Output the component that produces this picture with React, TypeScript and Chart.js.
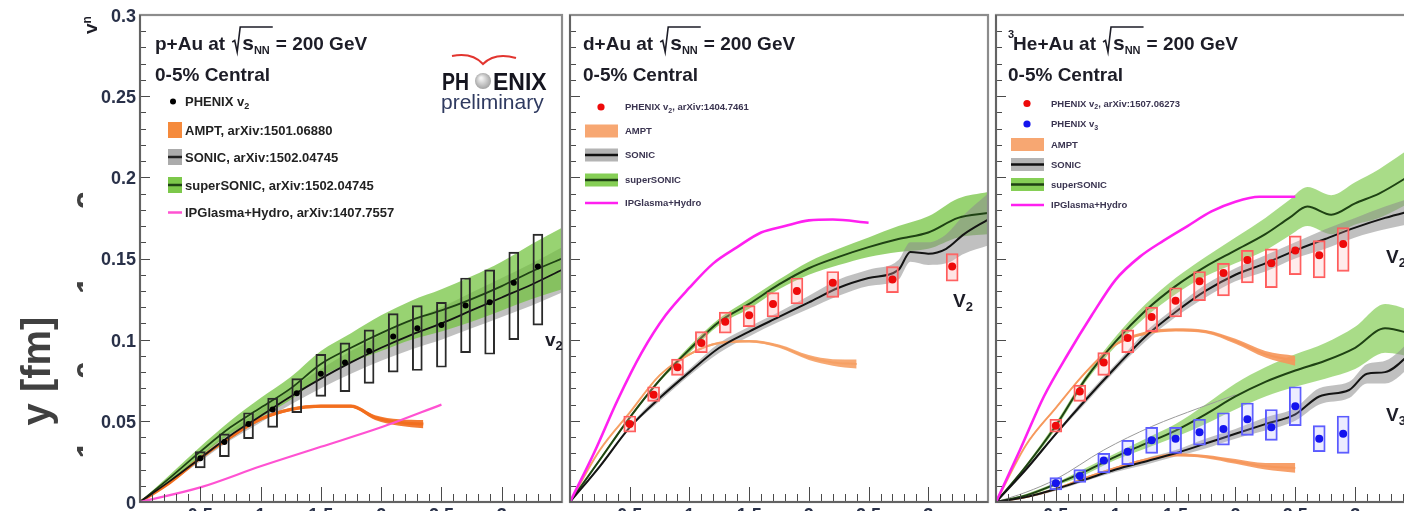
import React, { useEffect, useRef } from "react";
import { Chart, registerables } from "chart.js";

Chart.register(...registerables);

const FONT = '"Liberation Sans", Arial, Helvetica, sans-serif';
const CANVAS_H = 530;
const X_MAX = 3.5;
const Y_MAX = 0.3;

const yTickLabels = ["0", "0.05", "0.1", "0.15", "0.2", "0.25", "0.3"];
const xTickLabels = ["0.5", "1", "1.5", "2", "2.5", "3"];

// ---------------- p+Au ----------------
const pAuX = [0.5, 0.7, 0.9, 1.1, 1.3, 1.5, 1.7, 1.9, 2.1, 2.3, 2.5, 2.7, 2.9, 3.1, 3.3];
const pAuV2 = [0.027, 0.037, 0.048, 0.057, 0.067, 0.079, 0.086, 0.093, 0.102, 0.107, 0.109, 0.121, 0.123, 0.135, 0.145];
const pAuV2SysLo = [0.021, 0.028, 0.039, 0.046, 0.055, 0.065, 0.068, 0.073, 0.08, 0.081, 0.083, 0.092, 0.091, 0.1, 0.109];
const pAuV2SysHi = [0.031, 0.042, 0.055, 0.064, 0.076, 0.091, 0.098, 0.106, 0.116, 0.121, 0.123, 0.138, 0.143, 0.154, 0.165];

const hydroX = [0, 0.25, 0.5, 0.75, 1, 1.25, 1.5, 1.75, 2, 2.25, 2.5, 2.75, 3, 3.25, 3.5];
const pAuSonic = [0, 0.013, 0.027, 0.041, 0.053, 0.065, 0.076, 0.086, 0.095, 0.103, 0.11, 0.118, 0.126, 0.134, 0.143];
const pAuSonicErr = [0, 0.001, 0.002, 0.003, 0.004, 0.005, 0.006, 0.007, 0.008, 0.009, 0.01, 0.011, 0.012, 0.013, 0.014];
const pAuSuperSonic = [0, 0.015, 0.031, 0.046, 0.058, 0.07, 0.085, 0.095, 0.104, 0.112, 0.118, 0.125, 0.133, 0.142, 0.15];
const pAuSuperSonicErr = [0, 0.002, 0.003, 0.004, 0.006, 0.007, 0.008, 0.009, 0.011, 0.012, 0.013, 0.014, 0.015, 0.017, 0.019];
const pAuAmptX = [0, 0.25, 0.5, 0.75, 1, 1.25, 1.5, 1.75, 1.95, 2.15, 2.35];
const pAuAmpt = [0, 0.012, 0.027, 0.04, 0.051, 0.057, 0.059, 0.059, 0.052, 0.049, 0.048];
const pAuAmptErr = [0, 0.0005, 0.0008, 0.001, 0.001, 0.001, 0.001, 0.001, 0.0015, 0.002, 0.0025];
const pAuIpgX = [0, 0.5, 1, 1.5, 2, 2.5];
const pAuIpg = [0, 0.009, 0.022, 0.034, 0.046, 0.06];

// ---------------- d+Au ----------------
const dAuX = [0.5, 0.7, 0.9, 1.1, 1.3, 1.5, 1.7, 1.9, 2.2, 2.7, 3.2];
const dAuV2 = [0.048, 0.066, 0.083, 0.098, 0.111, 0.115, 0.122, 0.13, 0.135, 0.137, 0.145];
const dAuV2SysLo = [0.043, 0.062, 0.078, 0.092, 0.104, 0.108, 0.114, 0.122, 0.126, 0.129, 0.136];
const dAuV2SysHi = [0.053, 0.071, 0.088, 0.105, 0.117, 0.121, 0.129, 0.138, 0.142, 0.145, 0.153];
const dAuSonicX = [0, 0.25, 0.5, 0.75, 1, 1.25, 1.5, 1.75, 2, 2.25, 2.5, 2.75, 2.85, 3, 3.15, 3.3, 3.5];
const dAuSonic = [0, 0.022, 0.046, 0.064, 0.08, 0.095, 0.105, 0.114, 0.123, 0.132, 0.138, 0.143, 0.154, 0.153, 0.156, 0.165, 0.174];
const dAuSonicErr = [0, 0.001, 0.001, 0.002, 0.002, 0.003, 0.003, 0.003, 0.004, 0.005, 0.005, 0.006, 0.006, 0.007, 0.009, 0.012, 0.016];
const dAuSuperSonic = [0, 0.026, 0.052, 0.075, 0.094, 0.111, 0.122, 0.134, 0.144, 0.151, 0.157, 0.162, 0.166, 0.175, 0.178];
const dAuSuperSonicErr = [0, 0.001, 0.001, 0.001, 0.002, 0.002, 0.003, 0.003, 0.004, 0.005, 0.006, 0.008, 0.01, 0.012, 0.013];
const dAuAmptX = [0, 0.25, 0.5, 0.75, 1, 1.25, 1.5, 1.75, 2, 2.2, 2.4];
const dAuAmpt = [0, 0.032, 0.055, 0.078, 0.091, 0.098, 0.099, 0.096, 0.089, 0.086, 0.085];
const dAuAmptErr = [0, 0.0005, 0.0005, 0.0005, 0.0007, 0.0007, 0.0008, 0.001, 0.0015, 0.002, 0.0028];
const dAuIpgX = [0, 0.2, 0.4, 0.6, 0.8, 1, 1.2, 1.4, 1.6, 1.8, 2, 2.2, 2.5];
const dAuIpg = [0, 0.03, 0.063, 0.092, 0.115, 0.132, 0.147, 0.157, 0.166, 0.17, 0.1735, 0.174, 0.172];

// ---------------- 3He+Au ----------------
const heAuX = [0.5, 0.7, 0.9, 1.1, 1.3, 1.5, 1.7, 1.9, 2.1, 2.3, 2.5, 2.7, 2.9];
const heAuV2 = [0.047, 0.068, 0.086, 0.101, 0.114, 0.124, 0.136, 0.141, 0.149, 0.147, 0.155, 0.152, 0.159];
const heAuV2SysLo = [0.043, 0.062, 0.078, 0.092, 0.105, 0.114, 0.124, 0.127, 0.135, 0.132, 0.14, 0.138, 0.142];
const heAuV2SysHi = [0.051, 0.072, 0.092, 0.106, 0.12, 0.132, 0.142, 0.147, 0.155, 0.156, 0.164, 0.161, 0.169];
const heAuV3 = [0.0115, 0.016, 0.0255, 0.031, 0.038, 0.039, 0.043, 0.045, 0.051, 0.046, 0.059, 0.039, 0.042];
const heAuV3SysLo = [0.0075, 0.012, 0.018, 0.023, 0.03, 0.03, 0.035, 0.035, 0.041, 0.038, 0.047, 0.031, 0.03];
const heAuV3SysHi = [0.015, 0.02, 0.03, 0.038, 0.046, 0.046, 0.051, 0.055, 0.061, 0.057, 0.071, 0.047, 0.053];

const heSonicV2 = [0, 0.02, 0.042, 0.063, 0.083, 0.102, 0.117, 0.13, 0.14, 0.147, 0.155, 0.162, 0.169, 0.175, 0.18];
const heSonicV2Err = [0, 0.001, 0.001, 0.002, 0.002, 0.003, 0.003, 0.004, 0.004, 0.005, 0.005, 0.006, 0.006, 0.007, 0.008];
const heSuperSonicV2X = [0, 0.25, 0.5, 0.75, 1, 1.25, 1.5, 1.75, 2, 2.25, 2.45, 2.6, 2.8, 3, 3.2, 3.5];
const heSuperSonicV2 = [0, 0.022, 0.047, 0.076, 0.099, 0.118, 0.133, 0.145, 0.155, 0.165, 0.175, 0.182, 0.177, 0.184, 0.19, 0.203];
const heSuperSonicV2Err = [0, 0.001, 0.002, 0.002, 0.003, 0.004, 0.005, 0.006, 0.008, 0.01, 0.011, 0.012, 0.012, 0.013, 0.015, 0.017];
const heAmptX = [0, 0.25, 0.5, 0.75, 1, 1.25, 1.5, 1.75, 2, 2.25, 2.5];
const heAmptV2 = [0, 0.035, 0.058, 0.08, 0.097, 0.104, 0.106, 0.105, 0.099, 0.091, 0.087];
const heAmptV2Err = [0, 0.0005, 0.0005, 0.0007, 0.0008, 0.001, 0.001, 0.001, 0.0015, 0.002, 0.003];
const heIpgX = [0, 0.2, 0.4, 0.6, 0.8, 1, 1.2, 1.4, 1.6, 1.8, 2, 2.2, 2.5];
const heIpgV2 = [0, 0.032, 0.065, 0.091, 0.115, 0.137, 0.151, 0.161, 0.17, 0.179, 0.185, 0.188, 0.188];

const heSonicV3X = [0, 0.25, 0.5, 0.75, 1, 1.25, 1.5, 1.75, 2, 2.25, 2.5, 2.7, 2.95, 3.1, 3.25, 3.5];
const heSonicV3 = [0, 0.003, 0.008, 0.014, 0.02, 0.025, 0.03, 0.036, 0.042, 0.048, 0.054, 0.065, 0.069, 0.079, 0.08, 0.094];
const heSonicV3Err = [0, 0.0005, 0.001, 0.001, 0.0015, 0.002, 0.002, 0.003, 0.003, 0.004, 0.004, 0.005, 0.005, 0.006, 0.007, 0.008];
const heSuperSonicV3 = [0, 0.004, 0.011, 0.019, 0.028, 0.036, 0.044, 0.054, 0.065, 0.074, 0.081, 0.087, 0.095, 0.107, 0.103];
const heSuperSonicV3Err = [0, 0.001, 0.001, 0.002, 0.002, 0.003, 0.004, 0.006, 0.008, 0.009, 0.01, 0.011, 0.013, 0.015, 0.014];
const heAmptV3 = [0, 0.003, 0.008, 0.015, 0.021, 0.026, 0.029, 0.028, 0.025, 0.022, 0.021];
const heAmptV3Err = [0, 0.0005, 0.0005, 0.0005, 0.0007, 0.0008, 0.001, 0.001, 0.0015, 0.002, 0.003];
const heV3GrayCurveX = [0, 0.25, 0.5, 0.9, 1.3, 1.7, 2.0];
const heV3GrayCurve = [0, 0.006, 0.014, 0.032, 0.0465, 0.058, 0.066];

// ---------------- dataset helpers ----------------
type Pt = { x: number; y: number };
const pts = (xs: number[], ys: number[]): Pt[] => xs.map((x, i) => ({ x, y: ys[i] }));
const shifted = (ys: number[], es: number[], s: number) => ys.map((y, i) => y + s * es[i]);

function band(xs: number[], mid: number[], err: number[], color: string, order: number) {
  const common = {
    type: "line",
    borderWidth: 0,
    borderColor: "rgba(0,0,0,0)",
    pointRadius: 0,
    cubicInterpolationMode: "monotone",
    order,
  };
  return [
    { ...common, data: pts(xs, shifted(mid, err, 1)), fill: false },
    { ...common, data: pts(xs, shifted(mid, err, -1)), fill: "-1", backgroundColor: color },
  ];
}

function curve(xs: number[], ys: number[], color: string, width: number, order: number) {
  return {
    type: "line",
    data: pts(xs, ys),
    borderColor: color,
    borderWidth: width,
    pointRadius: 0,
    fill: false,
    cubicInterpolationMode: "monotone",
    order,
  };
}

function sysBoxes(xs: number[], lo: number[], hi: number[], stroke: string, fillColor: string, thickness: number) {
  return {
    type: "bar",
    data: xs.map((x, i) => ({ x, y: [lo[i], hi[i]] })),
    backgroundColor: fillColor,
    borderColor: stroke,
    borderWidth: 1.3,
    borderSkipped: false,
    barThickness: thickness,
    grouped: false,
    order: 2,
  };
}

function markers(xs: number[], ys: number[], color: string, r: number) {
  return {
    type: "line",
    data: pts(xs, ys),
    showLine: false,
    borderColor: color,
    pointRadius: r,
    pointBackgroundColor: color,
    pointBorderColor: color,
    pointBorderWidth: 0,
    order: 1,
  };
}

// ---------------- text helpers ----------------
const TXT = "#1d1d27";

function drawTitle(ctx: CanvasRenderingContext2D, x: number, y: number, system: string, iso?: string) {
  ctx.save();
  ctx.fillStyle = TXT;
  ctx.strokeStyle = TXT;
  ctx.textAlign = "left";
  ctx.textBaseline = "alphabetic";
  let cx = x;
  if (iso) {
    ctx.font = `bold 11px ${FONT}`;
    ctx.fillText(iso, cx, y - 12);
    cx += ctx.measureText(iso).width - 1;
  }
  ctx.font = `bold 19px ${FONT}`;
  const head = system + " at";
  ctx.fillText(head, cx, y);
  cx += ctx.measureText(head).width + 7;
  ctx.font = `bold 21px ${FONT}`;
  const sW = ctx.measureText("s").width;
  ctx.font = `bold 11px ${FONT}`;
  const nnW = ctx.measureText("NN").width;
  ctx.lineWidth = 1.6;
  ctx.beginPath();
  ctx.moveTo(cx, y - 8);
  ctx.lineTo(cx + 2.5, y - 9.5);
  ctx.lineTo(cx + 5, y + 2);
  ctx.lineTo(cx + 8, y - 23);
  ctx.lineTo(cx + 11 + sW + nnW + 2, y - 23);
  ctx.stroke();
  cx += 10;
  ctx.font = `bold 21px ${FONT}`;
  ctx.fillText("s", cx, y);
  cx += sW;
  ctx.font = `bold 11px ${FONT}`;
  ctx.fillText("NN", cx, y + 4);
  cx += nnW + 6;
  ctx.font = `bold 19px ${FONT}`;
  ctx.fillText("= 200 GeV", cx, y);
  ctx.fillText("0-5% Central", x, y + 31);
  ctx.restore();
}

function drawHarmonic(ctx: CanvasRenderingContext2D, x: number, y: number, letter: string, n: string, size: number) {
  ctx.save();
  ctx.fillStyle = TXT;
  ctx.textAlign = "left";
  ctx.textBaseline = "alphabetic";
  ctx.font = `bold ${size}px ${FONT}`;
  ctx.fillText(letter, x, y);
  const w = ctx.measureText(letter).width;
  ctx.font = `bold ${Math.round(size * 0.68)}px ${FONT}`;
  ctx.fillText(n, x + w, y + size * 0.22);
  ctx.restore();
}

type LegendEntry = {
  kind: "dot" | "box" | "bandline" | "line";
  color: string;
  lineColor?: string;
  text: string;
  sub?: string;
  tail?: string;
};

type LegendLayout = {
  rows: number[];
  x0: number;
  x1: number;
  h: number;
  dotX: number;
  dotR: number;
  textX: number;
  size: number;
  color: string;
};

function drawLegend(ctx: CanvasRenderingContext2D, entries: LegendEntry[], L: LegendLayout) {
  ctx.save();
  ctx.textAlign = "left";
  ctx.textBaseline = "alphabetic";
  entries.forEach((e, i) => {
    const y = L.rows[i];
    if (e.kind === "dot") {
      ctx.fillStyle = e.color;
      ctx.beginPath();
      ctx.arc(L.dotX, y, L.dotR, 0, Math.PI * 2);
      ctx.fill();
    } else if (e.kind === "box" || e.kind === "bandline") {
      ctx.fillStyle = e.color;
      ctx.fillRect(L.x0, y - L.h / 2, L.x1 - L.x0, L.h);
      if (e.kind === "bandline") {
        ctx.strokeStyle = e.lineColor || "#111";
        ctx.lineWidth = 2.5;
        ctx.beginPath();
        ctx.moveTo(L.x0, y);
        ctx.lineTo(L.x1, y);
        ctx.stroke();
      }
    } else {
      ctx.strokeStyle = e.color;
      ctx.lineWidth = 2.5;
      ctx.beginPath();
      ctx.moveTo(L.x0, y);
      ctx.lineTo(L.x1, y);
      ctx.stroke();
    }
    ctx.fillStyle = L.color;
    ctx.font = `bold ${L.size}px ${FONT}`;
    const by = y + L.size * 0.36;
    ctx.fillText(e.text, L.textX, by);
    let cx = L.textX + ctx.measureText(e.text).width;
    if (e.sub) {
      ctx.font = `bold ${Math.round(L.size * 0.7)}px ${FONT}`;
      ctx.fillText(e.sub, cx, by + L.size * 0.25);
      cx += ctx.measureText(e.sub).width;
    }
    if (e.tail) {
      ctx.font = `bold ${L.size}px ${FONT}`;
      ctx.fillText(e.tail, cx, by);
    }
  });
  ctx.restore();
}

function drawLogo(ctx: CanvasRenderingContext2D) {
  ctx.save();
  ctx.strokeStyle = "#e2352f";
  ctx.lineWidth = 2;
  ctx.beginPath();
  ctx.moveTo(452, 56);
  ctx.quadraticCurveTo(472, 52, 483, 64);
  ctx.quadraticCurveTo(495, 52, 516, 58);
  ctx.stroke();
  ctx.fillStyle = "#15151f";
  ctx.font = `bold 23px ${FONT}`;
  ctx.textBaseline = "alphabetic";
  const phW = ctx.measureText("PH").width;
  ctx.save();
  ctx.translate(442, 90);
  ctx.scale(27 / phW, 1);
  ctx.fillText("PH", 0, 0);
  ctx.restore();
  ctx.fillText("ENIX", 493, 90);
  const g = ctx.createRadialGradient(481, 78, 1, 483, 81, 9);
  g.addColorStop(0, "#f4f4f4");
  g.addColorStop(1, "#9c9c9c");
  ctx.fillStyle = g;
  ctx.beginPath();
  ctx.arc(483, 81, 8, 0, Math.PI * 2);
  ctx.fill();
  ctx.fillStyle = "#2f3a60";
  ctx.font = `21px ${FONT}`;
  ctx.fillText("preliminary", 441, 109);
  ctx.restore();
}

// fragments of a neighbouring figure's rotated axis, cut off at the page gutter
const strayTickLabels = ["2", "1", "0", "-1"];
const strayTickY = [200, 285, 370, 455];

function drawStray(ctx: CanvasRenderingContext2D) {
  ctx.save();
  ctx.fillStyle = "#404040";
  ctx.save();
  ctx.translate(50, 371);
  ctx.rotate(-Math.PI / 2);
  ctx.font = `bold 40px ${FONT}`;
  ctx.textAlign = "center";
  ctx.textBaseline = "alphabetic";
  ctx.fillText("y [fm]", 0, 0);
  ctx.restore();
  ctx.beginPath();
  ctx.rect(0, 0, 83, 511);
  ctx.clip();
  ctx.font = `bold 32px ${FONT}`;
  strayTickLabels.forEach((t, i) => {
    ctx.save();
    ctx.translate(99, strayTickY[i]);
    ctx.rotate(-Math.PI / 2);
    ctx.textAlign = "center";
    ctx.fillText(t, 0, 0);
    ctx.restore();
  });
  ctx.restore();

  // rotated v_n axis title
  ctx.save();
  ctx.fillStyle = TXT;
  ctx.translate(97, 34);
  ctx.rotate(-Math.PI / 2);
  ctx.font = `bold 19px ${FONT}`;
  ctx.fillText("v", 0, 0);
  const w = ctx.measureText("v").width;
  ctx.font = `bold 12px ${FONT}`;
  ctx.fillText("n", w, -6);
  ctx.restore();
}

// ---------------- axes (ROOT style, ticks inside the frame) ----------------
function drawAxes(chart: any, showYLabels: boolean) {
  const ctx: CanvasRenderingContext2D = chart.ctx;
  const a = chart.chartArea;
  const sx = chart.scales.x;
  const sy = chart.scales.y;
  ctx.save();
  ctx.strokeStyle = "#4a4a4a";
  ctx.lineWidth = 1;
  const ny = Math.round(Y_MAX / 0.01);
  for (let i = 0; i <= ny; i++) {
    const py = Math.round(sy.getPixelForValue(i * 0.01)) + 0.5;
    const len = i % 5 === 0 ? 10 : 6;
    ctx.beginPath();
    ctx.moveTo(a.left, py);
    ctx.lineTo(a.left + len, py);
    ctx.stroke();
  }
  const nx = Math.round(X_MAX / 0.1);
  for (let i = 0; i <= nx; i++) {
    const px = Math.round(sx.getPixelForValue(i * 0.1)) + 0.5;
    const len = i % 5 === 0 ? 15 : 8;
    ctx.beginPath();
    ctx.moveTo(px, a.bottom);
    ctx.lineTo(px, a.bottom - len);
    ctx.stroke();
  }
  ctx.strokeStyle = "#8c8c8c";
  ctx.lineWidth = 2.2;
  ctx.strokeRect(a.left, a.top, a.right - a.left, a.bottom - a.top);
  ctx.strokeStyle = "#555";
  ctx.lineWidth = 1.5;
  ctx.beginPath();
  ctx.moveTo(a.left, a.top);
  ctx.lineTo(a.left, a.bottom);
  ctx.lineTo(a.right, a.bottom);
  ctx.stroke();

  ctx.fillStyle = "#283048";
  ctx.font = `bold 18px ${FONT}`;
  if (showYLabels) {
    ctx.textAlign = "right";
    ctx.textBaseline = "middle";
    yTickLabels.forEach((l) => ctx.fillText(l, a.left - 4, sy.getPixelForValue(parseFloat(l)) + 2));
  }
  ctx.textAlign = "center";
  ctx.textBaseline = "top";
  xTickLabels.forEach((l) => ctx.fillText(l, sx.getPixelForValue(parseFloat(l)), a.bottom + 5));
  ctx.restore();
}

// ---------------- panels ----------------
type PanelSpec = {
  id: string;
  left: number;
  width: number;
  pad: { left: number; right: number; top: number; bottom: number };
  yLabels: boolean;
  datasets: () => any[];
  decorate: (ctx: CanvasRenderingContext2D) => void;
};

const GREEN = "rgba(112, 194, 60, 0.72)";
const GREEN_LIGHT = "rgba(128, 204, 80, 0.68)";
const GREEN_LINE = "#1f4214";
const GRAY = "rgba(140, 140, 140, 0.55)";
const BLACK = "#141414";
const ORANGE_DARK = "#f26e1e";
const ORANGE_LIGHT = "#f6a46c";
const PINK = "#ff52d2";
const MAGENTA = "#ff20f0";
const RED = "#ee0a0a";
const BLUE = "#1414ee";

const smallLegendLayout = (x: number, rows: number[]): LegendLayout => ({
  rows,
  x0: x,
  x1: x + 33,
  h: 13,
  dotX: x + 16,
  dotR: 3.6,
  textX: x + 40,
  size: 9.5,
  color: "#3a3450",
});

const modelEntries: LegendEntry[] = [
  { kind: "box", color: "#f7a772", text: "AMPT" },
  { kind: "bandline", color: "#b4b4b4", lineColor: "#111", text: "SONIC" },
  { kind: "bandline", color: "#86cf56", lineColor: "#1f4214", text: "superSONIC" },
  { kind: "line", color: MAGENTA, text: "IPGlasma+Hydro" },
];

const panels: PanelSpec[] = [
  {
    id: "pAu",
    left: 0,
    width: 566,
    pad: { left: 140, right: 3, top: 15, bottom: CANVAS_H - 502 },
    yLabels: true,
    datasets: () => [
      ...band(hydroX, pAuSonic, pAuSonicErr, GRAY, 9),
      ...band(hydroX, pAuSuperSonic, pAuSuperSonicErr, GREEN, 8),
      ...band(pAuAmptX, pAuAmpt, pAuAmptErr, "rgba(242,110,30,0.9)", 6),
      curve(pAuAmptX, pAuAmpt, ORANGE_DARK, 3, 6),
      curve(hydroX, pAuSonic, BLACK, 1.8, 5),
      curve(hydroX, pAuSuperSonic, GREEN_LINE, 1.8, 5),
      curve(pAuIpgX, pAuIpg, PINK, 2.2, 4),
      sysBoxes(pAuX, pAuV2SysLo, pAuV2SysHi, "#2a2a2a", "rgba(0,0,0,0)", 10),
      markers(pAuX, pAuV2, "#000", 3),
    ],
    decorate: (ctx) => {
      drawStray(ctx);
      drawTitle(ctx, 155, 50, "p+Au");
      drawLegend(
        ctx,
        [
          { kind: "dot", color: "#000", text: "PHENIX v", sub: "2" },
          { kind: "box", color: "#f58a3c", text: "AMPT, arXiv:1501.06880" },
          { kind: "bandline", color: "#ababab", lineColor: "#222", text: "SONIC, arXiv:1502.04745" },
          { kind: "bandline", color: "#7cc84a", lineColor: "#1f4214", text: "superSONIC, arXiv:1502.04745" },
          { kind: "line", color: PINK, text: "IPGlasma+Hydro, arXiv:1407.7557" },
        ],
        { rows: [101.5, 130, 157, 185, 212.5], x0: 168, x1: 182, h: 16, dotX: 173, dotR: 3, textX: 185, size: 13, color: "#222" }
      );
      drawLogo(ctx);
      drawHarmonic(ctx, 545, 346, "v", "2", 19);
    },
  },
  {
    id: "dAu",
    left: 566,
    width: 426,
    pad: { left: 1, right: 4, top: 15, bottom: CANVAS_H - 502 },
    yLabels: false,
    datasets: () => [
      ...band(hydroX, dAuSuperSonic, dAuSuperSonicErr, GREEN, 9),
      ...band(dAuSonicX, dAuSonic, dAuSonicErr, GRAY, 8),
      ...band(dAuAmptX, dAuAmpt, dAuAmptErr, "rgba(246,160,100,0.9)", 6),
      curve(dAuAmptX, dAuAmpt, ORANGE_LIGHT, 2, 6),
      curve(dAuSonicX, dAuSonic, BLACK, 2, 5),
      curve(hydroX, dAuSuperSonic, GREEN_LINE, 2, 5),
      curve(dAuIpgX, dAuIpg, MAGENTA, 2.6, 4),
      sysBoxes(dAuX, dAuV2SysLo, dAuV2SysHi, "#ff5c5c", "rgba(255,170,170,0.3)", 12),
      markers(dAuX, dAuV2, RED, 4),
    ],
    decorate: (ctx) => {
      drawTitle(ctx, 583, 50, "d+Au");
      drawLegend(
        ctx,
        [{ kind: "dot", color: RED, text: "PHENIX v", sub: "2", tail: ", arXiv:1404.7461" }, ...modelEntries],
        smallLegendLayout(585, [107, 131, 155, 180, 203])
      );
      drawHarmonic(ctx, 953, 307, "V", "2", 19);
    },
  },
  {
    id: "HeAu",
    left: 992,
    width: 430,
    pad: { left: 1, right: 7, top: 15, bottom: CANVAS_H - 502 },
    yLabels: false,
    datasets: () => [
      ...band(heSuperSonicV2X, heSuperSonicV2, heSuperSonicV2Err, GREEN_LIGHT, 9),
      ...band(hydroX, heSuperSonicV3, heSuperSonicV3Err, GREEN_LIGHT, 9),
      ...band(hydroX, heSonicV2, heSonicV2Err, GRAY, 8),
      ...band(heSonicV3X, heSonicV3, heSonicV3Err, GRAY, 8),
      ...band(heAmptX, heAmptV2, heAmptV2Err, "rgba(246,150,90,0.9)", 6),
      ...band(heAmptX, heAmptV3, heAmptV3Err, "rgba(246,150,90,0.9)", 6),
      curve(heAmptX, heAmptV2, ORANGE_LIGHT, 2, 6),
      curve(heAmptX, heAmptV3, ORANGE_LIGHT, 2, 6),
      curve(heV3GrayCurveX, heV3GrayCurve, "#9a9a9a", 1, 7),
      curve(hydroX, heSonicV2, BLACK, 2, 5),
      curve(heSonicV3X, heSonicV3, BLACK, 2, 5),
      curve(heSuperSonicV2X, heSuperSonicV2, GREEN_LINE, 2, 5),
      curve(hydroX, heSuperSonicV3, GREEN_LINE, 2, 5),
      curve(heIpgX, heIpgV2, MAGENTA, 2.6, 4),
      sysBoxes(heAuX, heAuV2SysLo, heAuV2SysHi, "#ff5c5c", "rgba(255,170,170,0.22)", 12),
      sysBoxes(heAuX, heAuV3SysLo, heAuV3SysHi, "#5a5aff", "rgba(170,170,255,0.22)", 12),
      markers(heAuX, heAuV2, RED, 4),
      markers(heAuX, heAuV3, BLUE, 4),
    ],
    decorate: (ctx) => {
      drawTitle(ctx, 1008, 50, "He+Au", "3");
      drawLegend(
        ctx,
        [
          { kind: "dot", color: RED, text: "PHENIX v", sub: "2", tail: ", arXiv:1507.06273" },
          { kind: "dot", color: BLUE, text: "PHENIX v", sub: "3" },
          ...modelEntries,
        ],
        smallLegendLayout(1011, [103.5, 124, 144.5, 164.5, 184.5, 205])
      );
      drawHarmonic(ctx, 1386, 263, "V", "2", 19);
      drawHarmonic(ctx, 1386, 421, "V", "3", 19);
    },
  },
];

function buildConfig(spec: PanelSpec): any {
  return {
    type: "line",
    data: { datasets: spec.datasets() },
    options: {
      animation: false,
      responsive: false,
      maintainAspectRatio: false,
      devicePixelRatio: 1,
      layout: { padding: spec.pad },
      scales: {
        x: { type: "linear", min: 0, max: X_MAX, display: false, offset: false },
        y: { type: "linear", min: 0, max: Y_MAX, display: false },
      },
      plugins: {
        legend: { display: false },
        tooltip: { enabled: false },
        filler: { propagate: false },
      },
      events: [],
    },
    plugins: [
      {
        id: "rootFrame",
        afterDraw(chart: any) {
          drawAxes(chart, spec.yLabels);
          const ctx = chart.ctx as CanvasRenderingContext2D;
          ctx.save();
          ctx.translate(-spec.left, 0);
          spec.decorate(ctx);
          ctx.restore();
        },
      },
    ],
  };
}

function Panel({ spec }: { spec: PanelSpec }) {
  const ref = useRef<HTMLCanvasElement>(null);
  useEffect(() => {
    if (!ref.current) return;
    const chart = new Chart(ref.current, buildConfig(spec));
    return () => chart.destroy();
  }, [spec]);
  return (
    <canvas
      ref={ref}
      width={spec.width}
      height={CANVAS_H}
      style={{ position: "absolute", left: spec.left, top: 0, width: spec.width, height: CANVAS_H }}
    />
  );
}

export default function App() {
  return (
    <div
      style={{
        position: "absolute",
        left: 0,
        top: 0,
        width: 1404,
        height: 511,
        overflow: "hidden",
        background: "#ffffff",
      }}
    >
      {panels.map((p) => (
        <Panel key={p.id} spec={p} />
      ))}
    </div>
  );
}
